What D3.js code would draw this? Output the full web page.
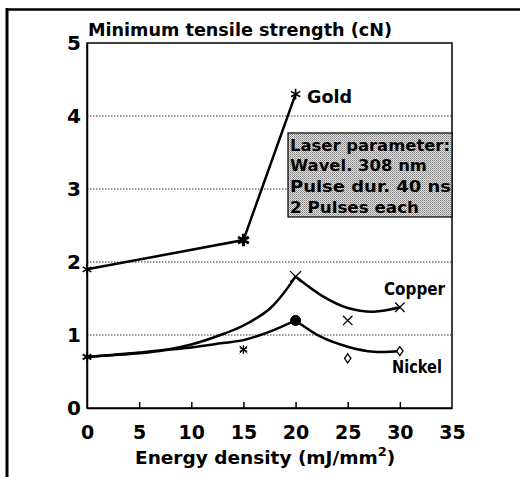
<!DOCTYPE html>
<html><head><meta charset="utf-8">
<script src="https://cdn.jsdelivr.net/npm/d3@7"></script>
<style>html,body{margin:0;padding:0;background:#fff;}svg{display:block;}</style>
</head><body>
<svg id="c" width="520" height="477"></svg>
<script>
// ---- data ----
const xTicks = [0, 5, 10, 15, 20, 25, 30, 35];
const yTicks = [0, 1, 2, 3, 4, 5];
const goldX = [0, 15, 20];
const goldY = [1.9, 2.3, 4.3];
const copperX = [0, 20, 25, 30];
const copperY = [0.7, 1.8, 1.2, 1.38];
const nickelX = [0, 15, 20, 25, 30];
const nickelY = [0.7, 0.8, 1.2, 0.68, 0.78];
// hand-drawn fitted curves, split at the peak
const copperFitX = [0, 5, 8, 10, 12.8, 15, 17.6, 20, 22.5, 25, 27.5, 30];
const copperFitY = [0.7, 0.76, 0.81, 0.87, 1.0, 1.13, 1.37, 1.8, 1.54, 1.37, 1.32, 1.38];
const nickelFitX = [0, 5, 8, 10, 13, 15, 17.6, 20, 22.5, 25, 27.5, 30];
const nickelFitY = [0.7, 0.75, 0.8, 0.83, 0.89, 0.93, 1.05, 1.2, 0.97, 0.84, 0.77, 0.78];
const peakX = 20;
const seriesNames = ["Gold", "Copper", "Nickel"];
const title = "Minimum tensile strength (cN)";
const xTitle = "Energy density (mJ/mm";
const boxLines = ["Laser parameter:", "Wavel. 308 nm", "Pulse dur. 40 ns", "2 Pulses each"];

// ---- layout ----
const svg = d3.select("#c");
const L = 87, R = 452, T = 43, B = 408;
const x = d3.scaleLinear().domain([0, 35]).range([L, R]);
const y = d3.scaleLinear().domain([0, 5]).range([B, T]);
const FONT = "'DejaVu Sans', sans-serif";

// outer frame
svg.append("line").attr("x1", 6).attr("x2", 520).attr("y1", 9.5).attr("y2", 9.5)
  .attr("stroke", "#000").attr("stroke-width", 2.5);
svg.append("line").attr("x1", 7).attr("x2", 7).attr("y1", 8).attr("y2", 477)
  .attr("stroke", "#000").attr("stroke-width", 3);

// gridlines
svg.append("g").selectAll("line").data(yTicks.filter(d => d > 0 && d < 5)).join("line")
  .attr("x1", L).attr("x2", R).attr("y1", d => y(d)).attr("y2", d => y(d))
  .attr("stroke", "#333").attr("stroke-width", 1).attr("stroke-dasharray", "1.5,1.5");

// plot frame
svg.append("rect").attr("x", L).attr("y", T).attr("width", R - L).attr("height", B - T)
  .attr("fill", "none").attr("stroke", "#000").attr("stroke-width", 1.5);

// x axis (ticks inward)
const xAxis = d3.axisBottom(x).tickValues(xTicks).tickFormat(d3.format("d"))
  .tickSizeInner(-6).tickSizeOuter(0).tickPadding(14);
const gx = svg.append("g").attr("transform", `translate(0,${B})`).call(xAxis);
gx.select(".domain").attr("stroke-width", 1.5);
gx.selectAll(".tick line").attr("stroke-width", 1.5).filter(d => d === 0 || d === 35).remove();
gx.selectAll(".tick text").attr("font-family", FONT).attr("font-weight", "bold")
  .attr("font-size", 19).attr("fill", "#000").attr("dy", "0.71em").attr("y", 18);

// y axis
const yAxis = d3.axisLeft(y).tickValues(yTicks).tickFormat(d3.format("d")).tickSize(0).tickPadding(6);
const gy = svg.append("g").attr("transform", `translate(${L},0)`).call(yAxis);
gy.select(".domain").attr("stroke-width", 1.5);
gy.selectAll(".tick text").attr("font-family", FONT).attr("font-weight", "bold")
  .attr("font-size", 20).attr("fill", "#000");

// titles
svg.append("text").attr("x", 88).attr("y", 36).attr("font-family", FONT).attr("font-weight", "bold")
  .attr("font-size", 18.5).attr("textLength", 304).attr("lengthAdjust", "spacingAndGlyphs").text(title);
const xt = svg.append("text").attr("x", 135).attr("y", 464).attr("font-family", FONT)
  .attr("font-weight", "bold").attr("font-size", 18.5);
xt.append("tspan").text(xTitle);
xt.append("tspan").attr("font-size", 13).attr("dy", -8).text("2");
xt.append("tspan").attr("dy", 8).text(")");

// info box
const defs = svg.append("defs");
const pat = defs.append("pattern").attr("id", "ht").attr("width", 2).attr("height", 2)
  .attr("patternUnits", "userSpaceOnUse");
pat.append("rect").attr("width", 2).attr("height", 2).attr("fill", "#e2e2e2");
pat.append("rect").attr("width", 1).attr("height", 1).attr("fill", "#808080");
pat.append("rect").attr("x", 1).attr("y", 1).attr("width", 1).attr("height", 1).attr("fill", "#a0a0a0");
svg.append("rect").attr("x", 288).attr("y", 133).attr("width", R - 288).attr("height", 84)
  .attr("fill", "url(#ht)").attr("stroke", "#000").attr("stroke-width", 1.2);
const boxW = [160, 137, 161, 129];
svg.append("g").selectAll("text").data(boxLines).join("text")
  .attr("x", 290).attr("y", (d, i) => 150.5 + i * 20.8)
  .attr("font-family", FONT).attr("font-weight", "bold").attr("font-size", 15.5)
  .attr("textLength", (d, i) => boxW[i]).attr("lengthAdjust", "spacingAndGlyphs")
  .text(d => d);

// lines
const ln = d3.line().x(d => x(d[0])).y(d => y(d[1]));
svg.append("path").datum(d3.zip(goldX, goldY)).attr("d", ln)
  .attr("fill", "none").attr("stroke", "#000").attr("stroke-width", 2.5);
const cr = d3.line().x(d => x(d[0])).y(d => y(d[1])).curve(d3.curveCatmullRom.alpha(0.5));
function fit(xs, ys) {
  const pts = d3.zip(xs, ys);
  return [pts.filter(p => p[0] <= peakX), pts.filter(p => p[0] >= peakX)];
}
[...fit(copperFitX, copperFitY), ...fit(nickelFitX, nickelFitY)].forEach(seg => {
  svg.append("path").datum(seg).attr("d", cr).attr("fill", "none")
    .attr("stroke", "#000").attr("stroke-width", 2.5).attr("stroke-linejoin", "round");
});

// markers
const sym = (type, size) => d3.symbol().type(type).size(size)();
const AST = d3.symbolAsterisk || d3.symbolCross;
const TIMES = d3.symbolTimes || d3.symbolX || d3.symbolCross;
function mark(cx, cy, type, size, opts) {
  svg.append("path").attr("d", sym(type, size))
    .attr("transform", `translate(${x(cx)},${y(cy)})`)
    .attr("fill", opts.fill || "none").attr("stroke", "#000").attr("stroke-width", opts.sw || 1.5);
}
const goldStyle = [[AST, 70, 1.5], [AST, 110, 3], [AST, 80, 1.6]];
goldX.forEach((v, i) => mark(v, goldY[i], goldStyle[i][0], goldStyle[i][1], { sw: goldStyle[i][2] }));
const copperStyle = [[AST, 70, 1.8], [TIMES, 80, 1.4], [TIMES, 60, 1.3], [TIMES, 60, 1.3]];
copperX.forEach((v, i) => mark(v, copperY[i], copperStyle[i][0], copperStyle[i][1], { sw: copperStyle[i][2] }));
nickelX.forEach((v, i) => {
  if (i === 0) return;
  if (i === 1) { mark(v, nickelY[i], AST, 50, { sw: 1.4 }); mark(v, nickelY[i], TIMES, 40, { sw: 1 }); }
  else if (i === 2) mark(v, nickelY[i], d3.symbolCircle, 80, { fill: "#000", sw: 1 });
  else svg.append("path").attr("d", "M0,-4.5L3.2,0L0,4.5L-3.2,0Z")
    .attr("transform", `translate(${x(v)},${y(nickelY[i])})`)
    .attr("fill", "#fff").attr("stroke", "#000").attr("stroke-width", 1.3);
});

// series labels
const labelPos = [[307, 103, 45], [384, 295, 61], [392, 373, 50]];
svg.append("g").selectAll("text").data(seriesNames).join("text")
  .attr("x", (d, i) => labelPos[i][0]).attr("y", (d, i) => labelPos[i][1])
  .attr("textLength", (d, i) => labelPos[i][2]).attr("lengthAdjust", "spacingAndGlyphs")
  .attr("font-family", FONT).attr("font-weight", "bold").attr("font-size", 17).text(d => d);
</script>
</body></html>
